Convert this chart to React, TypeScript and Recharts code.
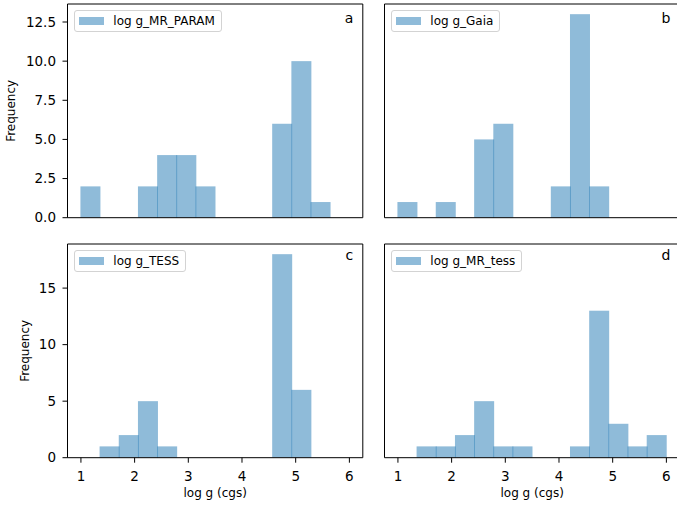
import { Bar, BarChart, Legend, ReferenceLine, XAxis, YAxis } from 'recharts';

// shared histogram bin edges, log g in cgs
const binEdges = [1.0, 1.357, 1.714, 2.071, 2.429, 2.786, 3.143, 3.5, 3.857, 4.214, 4.571, 4.929, 5.286, 5.643, 6.0];

// counts per bin for each estimate
const countsMrParam = [2, 0, 0, 2, 4, 4, 2, 0, 0, 0, 6, 10, 1, 0];
const countsGaia = [1, 0, 1, 0, 5, 6, 0, 0, 2, 13, 2, 0, 0, 0];
const countsTess = [0, 1, 2, 5, 1, 0, 0, 0, 0, 0, 18, 6, 0, 0];
const countsMrTess = [0, 1, 1, 2, 5, 1, 1, 0, 0, 1, 13, 3, 1, 2];

const xTicks = [1, 2, 3, 4, 5, 6];
const xDomain: [number, number] = [0.75, 6.25];
const yTicksTop = [0, 2.5, 5, 7.5, 10, 12.5];
const yTicksBottom = [0, 5, 10, 15];
const yMaxTop = 13.65;
const yMaxBottom = 18.9;

const FONT = 'DejaVu Sans';
const BAR_COLOR = '#1f77b4';
const INK = '#000';

const toBins = (counts: number[]) =>
  counts.map((count, i) => ({ center: (binEdges[i] + binEdges[i + 1]) / 2, count }));

// bars overlap by a pixel so neighbouring edges read darker, like stacked alpha
const HistBar = (p: any) => {
  if (!p.height) return null;
  return <rect x={p.x - 0.5} y={p.y} width={p.width + 1} height={p.height} fill={BAR_COLOR} fillOpacity={0.5} />;
};

const LegendBox = ({ payload }: any) => {
  const item = payload && payload[0];
  if (!item) return null;
  return (
    <div
      style={{
        display: 'inline-flex',
        alignItems: 'center',
        boxSizing: 'border-box',
        height: 22.3,
        padding: '0 6px 0 4px',
        border: '1px solid #d3d3d3',
        borderRadius: 3,
        background: 'rgba(255,255,255,0.8)',
        fontFamily: FONT,
        fontSize: 12,
        color: '#000',
        whiteSpace: 'nowrap',
      }}
    >
      <span style={{ display: 'inline-block', width: 25, height: 8, background: BAR_COLOR, opacity: 0.5 }} />
      <span style={{ marginLeft: 9.3, lineHeight: '12px' }}>{item.value}</span>
    </div>
  );
};

type PanelProps = {
  name: string;
  counts: number[];
  tag: string;
  left: number;
  top: number;
  width: number;
  height: number;
  yAxisWidth: number;
  xAxisHeight: number;
  marginTop: number;
  marginRight: number;
  yMax: number;
  yTicks: number[];
  showXLabels: boolean;
  showYLabels: boolean;
  yLabelOffset?: number;
  tagDy: number;
};

function Panel(props: PanelProps) {
  const {
    name, counts, tag, left, top, width, height, yAxisWidth, xAxisHeight,
    marginTop, marginRight, yMax, yTicks, showXLabels, showYLabels, yLabelOffset, tagDy,
  } = props;
  const data = toBins(counts);
  const fmt = (v: number) => (yMax < 15 ? v.toFixed(1) : String(v));

  return (
    <div style={{ position: 'absolute', left, top }}>
      <BarChart
        width={width}
        height={height}
        data={data}
        margin={{ top: marginTop, right: marginRight, bottom: 0, left: 0 }}
        barCategoryGap={0}
        barGap={0}
      >
        <XAxis
          dataKey="center"
          type="number"
          domain={xDomain}
          allowDataOverflow
          ticks={xTicks}
          interval={0}
          height={xAxisHeight}
          stroke={INK}
          tickSize={5}
          tickMargin={9}
          tick={showXLabels ? { fontSize: 13.5, fill: INK, fontFamily: FONT } : false}
          label={
            showXLabels
              ? { value: 'log g (cgs)', position: 'insideBottom', offset: 9, fontSize: 12, fill: INK, fontFamily: FONT }
              : undefined
          }
        />
        <YAxis
          type="number"
          domain={[0, yMax]}
          allowDataOverflow
          ticks={yTicks}
          interval={0}
          width={yAxisWidth}
          stroke={INK}
          tickSize={5}
          tickMargin={6.5}
          tickFormatter={fmt}
          tick={showYLabels ? { fontSize: 13.5, fill: INK, fontFamily: FONT } : false}
          label={
            showYLabels
              ? {
                  value: 'Frequency',
                  angle: -90,
                  position: 'insideLeft',
                  offset: yLabelOffset,
                  fontSize: 12,
                  fill: INK,
                  fontFamily: FONT,
                  style: { textAnchor: 'middle' },
                }
              : undefined
          }
        />
        <Legend
          layout="vertical"
          align="center"
          verticalAlign="middle"
          content={<LegendBox />}
          wrapperStyle={{ left: yAxisWidth + 6.5, top: marginTop + 6, width: 'auto' }}
        />
        <Bar dataKey="count" name={name} fill={BAR_COLOR} shape={HistBar} isAnimationActive={false} />
        {/* top and right spines */}
        <ReferenceLine
          y={yMax}
          stroke={INK}
          label={(lp: any) => (
            <text
              x={lp.viewBox.x + lp.viewBox.width - 9.5}
              y={lp.viewBox.y + tagDy}
              textAnchor="end"
              fontSize={14}
              fontFamily={FONT}
              fill={INK}
            >
              {tag}
            </text>
          )}
        />
        <ReferenceLine x={xDomain[1]} stroke={INK} />
      </BarChart>
    </div>
  );
}

export default function App() {
  return (
    <div
      style={{
        position: 'absolute',
        left: 0,
        top: 0,
        width: 677,
        height: 506,
        overflow: 'hidden',
        background: '#fff',
        fontFamily: FONT,
      }}
    >
      <Panel
        name="log g_MR_PARAM" counts={countsMrParam} tag="a"
        left={0} top={0} width={370} height={230}
        yAxisWidth={67.5} xAxisHeight={12.3} marginTop={4} marginRight={7.2}
        yMax={yMaxTop} yTicks={yTicksTop} showXLabels={false} showYLabels yLabelOffset={11.1} tagDy={18.7}
      />
      <Panel
        name="log g_Gaia" counts={countsGaia} tag="b"
        left={370} top={0} width={320} height={230}
        yAxisWidth={14.5} xAxisHeight={12.3} marginTop={4} marginRight={10.2}
        yMax={yMaxTop} yTicks={yTicksTop} showXLabels={false} showYLabels={false} tagDy={18.7}
      />
      <Panel
        name="log g_TESS" counts={countsTess} tag="c"
        left={0} top={230} width={370} height={276}
        yAxisWidth={67.5} xAxisHeight={48.3} marginTop={14} marginRight={7.2}
        yMax={yMaxBottom} yTicks={yTicksBottom} showXLabels showYLabels yLabelOffset={25.2} tagDy={15.5}
      />
      <Panel
        name="log g_MR_tess" counts={countsMrTess} tag="d"
        left={370} top={230} width={320} height={276}
        yAxisWidth={14.5} xAxisHeight={48.3} marginTop={14} marginRight={10.2}
        yMax={yMaxBottom} yTicks={yTicksBottom} showXLabels showYLabels={false} tagDy={15.5}
      />
    </div>
  );
}
